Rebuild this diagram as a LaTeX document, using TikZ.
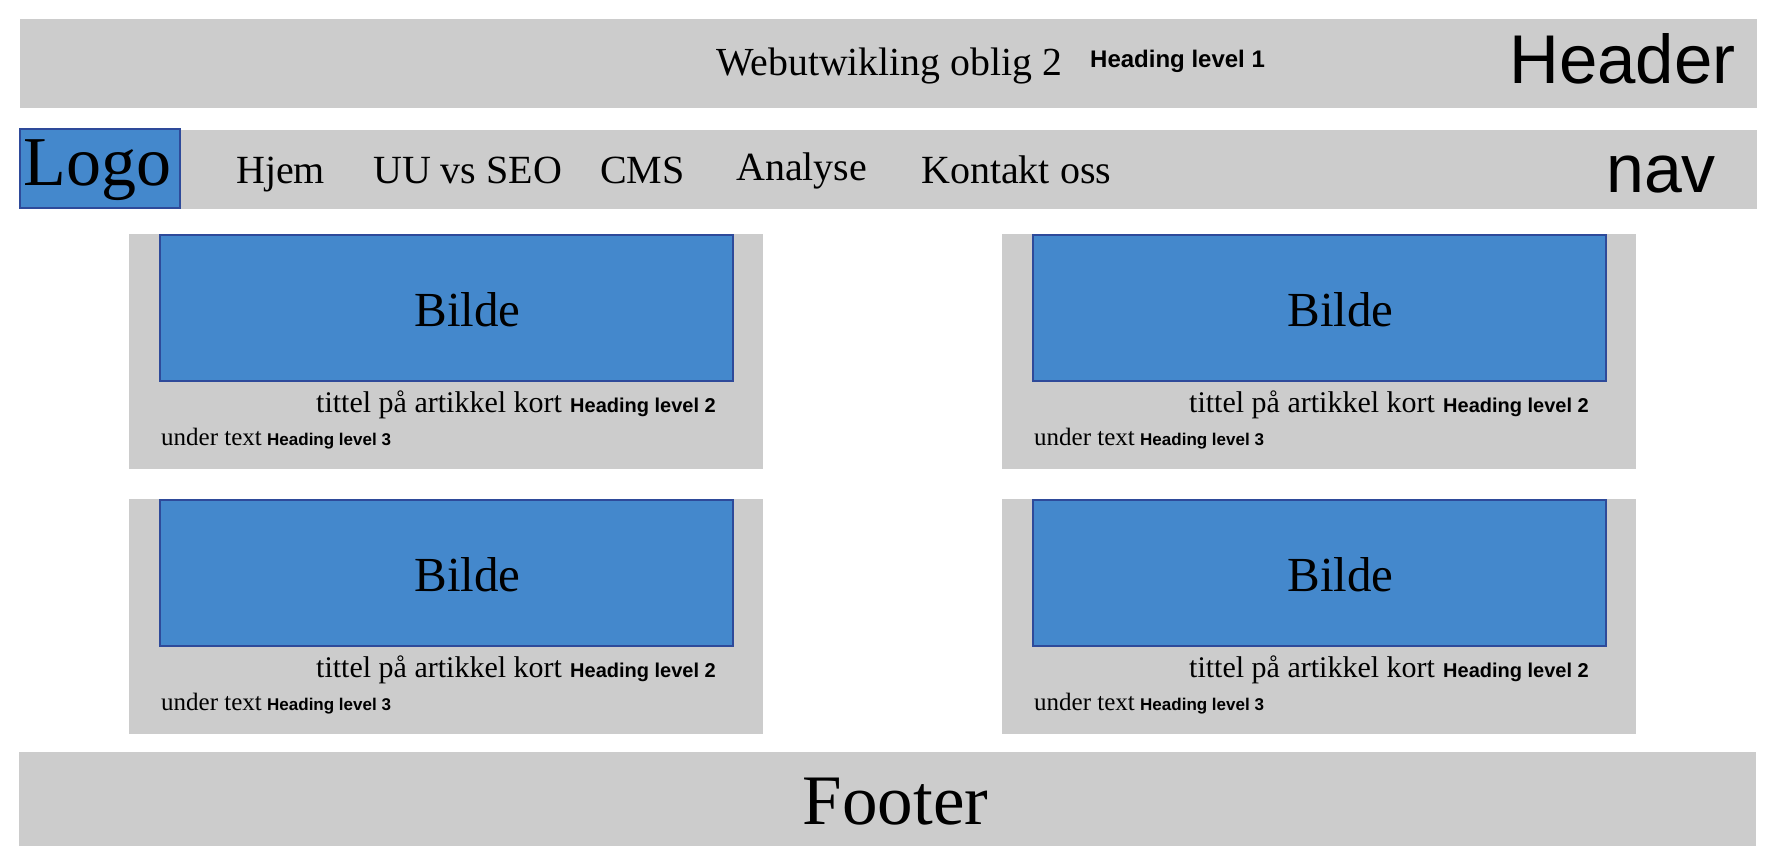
\documentclass[tikz,border=0pt]{standalone}
\usepackage{fontspec}
\setmainfont{Liberation Serif}
\newfontfamily\headfont{Liberation Sans}
\usepackage{tikz}
\usetikzlibrary{positioning,calc}

\definecolor{boxgray}{HTML}{CCCCCC}
\definecolor{imgblue}{HTML}{4488CC}
\definecolor{imgline}{HTML}{2E4A9A}

\newcommand{\fs}[1]{\fontsize{#1}{#1}\selectfont}

\begin{document}
\begin{tikzpicture}[x=1pt,y=-1pt,
	graybox/.style={fill=boxgray,inner sep=0pt,outer sep=0pt},
	imgbox/.style={fill=imgblue,draw=imgline,line width=2pt,inner sep=0pt,outer sep=0pt},
	every node/.style={inner sep=0pt}]
			\useasboundingbox (0,0) rectangle (1790,857);
			% header and nav
			\node[graybox,minimum width=1737,minimum height=89] (header) at (888.5,63.5) {};
			\node[graybox,minimum width=1737,minimum height=79] (nav) at (888.5,169.5) {};
			\node[imgbox,minimum width=160,minimum height=79] (logo) at (99.5,168) {};
			\node (logotxt) at ($(logo.center)+(-2,2)$) {\fs{70}Logo};
			\node[anchor=base west] (title) at (716,75) {\fs{39.8}Webutwikling oblig 2};
			\node[anchor=base west] (h1) at (1090,67) {\headfont\bfseries\fs{24}Heading level 1};
			\node[anchor=base west] (headertxt) at (1509,83) {\headfont\fs{69}Header};
			\node[anchor=base west] (navtxt) at (1606,192) {\headfont\fs{68}nav};
			\node[anchor=base west] (hjem) at (236,183) {\fs{40}Hjem};
			\node[anchor=base west] (uuseo) at (373,183) {\fs{40}UU vs SEO};
			\node[anchor=base west] (cms) at (600,183) {\fs{40}CMS};
			\node[anchor=base west] (analyse) at (736,180) {\fs{40}Analyse};
			\node[anchor=base west] (kontakt) at (921,183) {\fs{40}Kontakt oss};
			
			% cards
			\node[graybox,minimum width=634,minimum height=235] (card-a) at (446,351.5) {};
			\node[imgbox,minimum width=573,minimum height=146] (bilde-a) at (446.5,308) {};
			\node (bildetxt-a) at ($(bilde-a.center)+(21,2)$) {\fs{49}Bilde};
			\node[anchor=base west] (tittel-a) at (316,412) {\fs{30}tittel på artikkel kort};
			\node[anchor=base west] (h2-a) at (570,412) {\headfont\bfseries\fs{20}Heading level 2};
			\node[anchor=base west] (under-a) at (161,445) {\fs{25}under text};
			\node[anchor=base west] (h3-a) at (267,445) {\headfont\bfseries\fs{17}Heading level 3};
			
			\node[graybox,minimum width=634,minimum height=235] (card-b) at (1319,351.5) {};
			\node[imgbox,minimum width=573,minimum height=146] (bilde-b) at (1319.5,308) {};
			\node (bildetxt-b) at ($(bilde-b.center)+(21,2)$) {\fs{49}Bilde};
			\node[anchor=base west] (tittel-b) at (1189,412) {\fs{30}tittel på artikkel kort};
			\node[anchor=base west] (h2-b) at (1443,412) {\headfont\bfseries\fs{20}Heading level 2};
			\node[anchor=base west] (under-b) at (1034,445) {\fs{25}under text};
			\node[anchor=base west] (h3-b) at (1140,445) {\headfont\bfseries\fs{17}Heading level 3};
			
			\node[graybox,minimum width=634,minimum height=235] (card-c) at (446,616.5) {};
			\node[imgbox,minimum width=573,minimum height=146] (bilde-c) at (446.5,573) {};
			\node (bildetxt-c) at ($(bilde-c.center)+(21,2)$) {\fs{49}Bilde};
			\node[anchor=base west] (tittel-c) at (316,677) {\fs{30}tittel på artikkel kort};
			\node[anchor=base west] (h2-c) at (570,677) {\headfont\bfseries\fs{20}Heading level 2};
			\node[anchor=base west] (under-c) at (161,710) {\fs{25}under text};
			\node[anchor=base west] (h3-c) at (267,710) {\headfont\bfseries\fs{17}Heading level 3};
			
			\node[graybox,minimum width=634,minimum height=235] (card-d) at (1319,616.5) {};
			\node[imgbox,minimum width=573,minimum height=146] (bilde-d) at (1319.5,573) {};
			\node (bildetxt-d) at ($(bilde-d.center)+(21,2)$) {\fs{49}Bilde};
			\node[anchor=base west] (tittel-d) at (1189,677) {\fs{30}tittel på artikkel kort};
			\node[anchor=base west] (h2-d) at (1443,677) {\headfont\bfseries\fs{20}Heading level 2};
			\node[anchor=base west] (under-d) at (1034,710) {\fs{25}under text};
			\node[anchor=base west] (h3-d) at (1140,710) {\headfont\bfseries\fs{17}Heading level 3};
			
			% footer
			\node[graybox,minimum width=1737,minimum height=94] (footer) at (887.5,799) {};
			\node (footertxt) at ($(footer.center)+(8,3)$) {\fs{71}Footer};
\end{tikzpicture}
\end{document}
